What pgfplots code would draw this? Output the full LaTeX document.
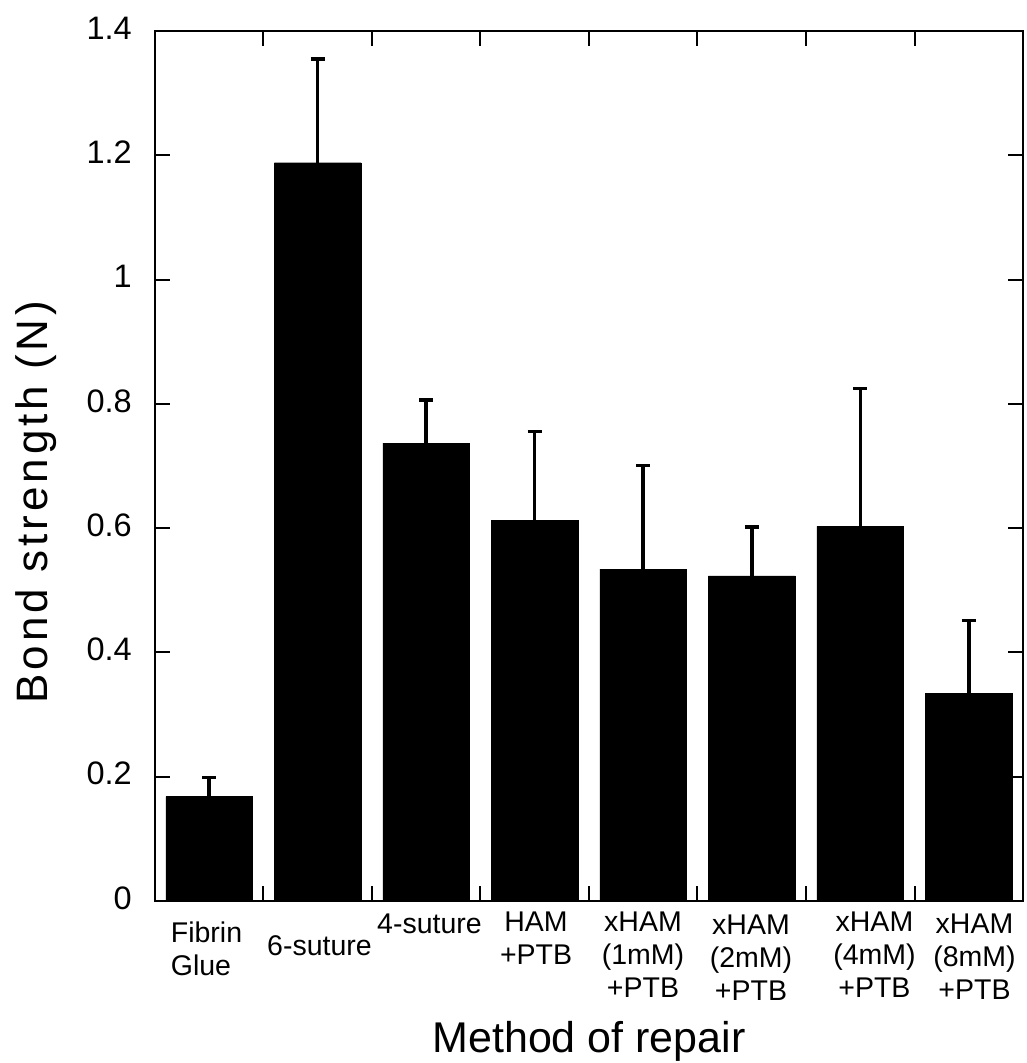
\documentclass[border=0pt]{standalone}
\usepackage{pgfplots}
\pgfplotsset{compat=1.18}
\usepackage{fontspec}
\setmainfont{Liberation Sans}
\newfontfamily\ylabfont[LetterSpace=9]{Liberation Sans}
\tikzset{catlab/.style={font=\fontsize{28.5}{33}\selectfont, inner sep=0pt, align=center, anchor=north}}
\begin{document}
\begin{tikzpicture}
\begin{axis}[
 at={(0pt,0pt)}, anchor=south west,
 scale only axis, width=868pt, height=870pt,
 xmin=-0.5, xmax=7.5, ymin=0, ymax=1.4,
 clip=false,
 xtick={0.5,1.5,2.5,3.5,4.5,5.5,6.5}, xticklabels={},
 ytick={0,0.2,0.4,0.6,0.8,1,1.2,1.4},
 yticklabels={0,0.2,0.4,0.6,0.8,1,1.2,1.4},
 tick align=inside, xtick pos=both, ytick pos=both,
 major tick length=15pt,
 axis line style={line width=2pt},
 every tick/.style={black, line width=2pt},
 yticklabel style={font=\fontsize{32.5}{38}\selectfont, anchor=east, inner sep=0pt, xshift=-23pt, yshift=3pt},
 ylabel={\ylabfont Bond strength (N)},
 ylabel style={at={(axis description cs:-0.1233,0.4586)}, anchor=base, font=\fontsize{44}{50}\selectfont},
 xlabel={Method of repair},
 xlabel style={at={(axis description cs:0.5,-0.1747)}, anchor=base, font=\fontsize{43}{50}\selectfont},
]
\addplot[ybar, bar width=0.8, fill=black, draw=black,
  error bars/.cd, y dir=plus, y explicit,
  error bar style={line width=3.5pt, black},
  error mark options={rotate=90, mark size=7pt, line width=3.3pt, black}]
  table[x=x, y=y, y error=e] {
x y e
0 0.168 0.031
1 1.188 0.167
2 0.737 0.069
3 0.612 0.144
4 0.534 0.167
5 0.523 0.079
6 0.603 0.222
7 0.334 0.117
};
\node[catlab, anchor=north west, align=left, xshift=15.7pt, yshift=-21pt] at (axis cs:-0.5,0) {Fibrin\\Glue};
\node[catlab, yshift=-34pt] at (axis cs:1.016,0) {6-suture};
\node[catlab, yshift=-13pt] at (axis cs:2.030,0) {4-suture};
\node[catlab, yshift=-11pt] at (axis cs:3.012,0) {HAM\\+PTB};
\node[catlab, yshift=-11pt] at (axis cs:3.998,0) {xHAM\\(1mM)\\+PTB};
\node[catlab, yshift=-14pt] at (axis cs:4.993,0) {xHAM\\(2mM)\\+PTB};
\node[catlab, yshift=-11pt] at (axis cs:6.131,0) {xHAM\\(4mM)\\+PTB};
\node[catlab, yshift=-13pt] at (axis cs:7.053,0) {xHAM\\(8mM)\\+PTB};
\end{axis}
\pgfresetboundingbox
\path[use as bounding box] (-155pt,-162pt) rectangle (871pt,901pt);
\end{tikzpicture}
\end{document}
